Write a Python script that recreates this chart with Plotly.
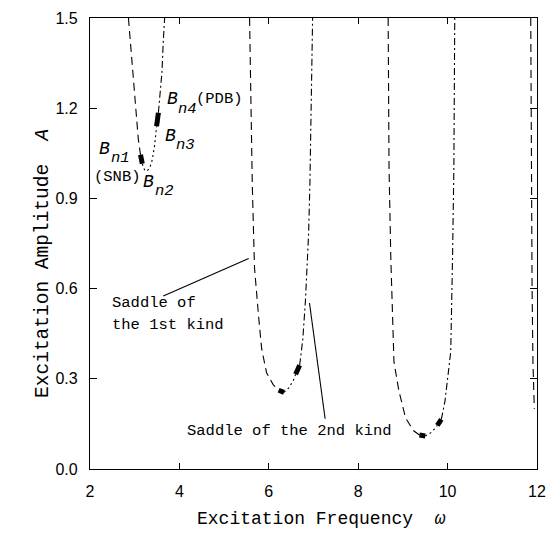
import plotly.graph_objects as go

# ---- data ----
# Resonance 1 (omega ~ 3.3)
r1_dash_w = [2.86, 2.90, 2.96, 3.03, 3.08, 3.13]
r1_dash_a = [1.50, 1.425, 1.31, 1.206, 1.098, 1.045]
r1_dot_w = [3.17, 3.22, 3.27, 3.33, 3.38, 3.44, 3.49]
r1_dot_a = [1.015, 0.995, 0.99, 1.00, 1.02, 1.07, 1.14]
r1_dd_w = [3.53, 3.58, 3.61, 3.64, 3.67]
r1_dd_a = [1.185, 1.26, 1.32, 1.425, 1.50]
# Resonance 2 (omega ~ 6.3)
r2_dash_w = [5.57, 5.60, 5.63, 5.66, 5.68, 5.77, 5.84, 5.95, 6.10, 6.22]
r2_dash_a = [1.50, 1.20, 0.95, 0.78, 0.67, 0.51, 0.40, 0.32, 0.28, 0.262]
r2_dot_w = [6.34, 6.45, 6.55, 6.60]
r2_dot_a = [0.255, 0.27, 0.295, 0.315]
r2_dd_w = [6.69, 6.76, 6.82, 6.86, 6.89, 6.92, 6.95, 6.98]
r2_dd_a = [0.345, 0.43, 0.56, 0.67, 0.78, 0.95, 1.20, 1.50]
# Resonance 3 (omega ~ 9.5)
r3_dash_w = [8.67, 8.69, 8.73, 8.80, 8.91, 9.06, 9.24, 9.37]
r3_dash_a = [1.50, 1.00, 0.70, 0.356, 0.26, 0.17, 0.127, 0.113]
r3_dot_w = [9.50, 9.62, 9.72, 9.77]
r3_dot_a = [0.110, 0.12, 0.135, 0.145]
r3_dd_w = [9.86, 9.94, 10.00, 10.07, 10.11, 10.14, 10.16]
r3_dd_a = [0.165, 0.225, 0.30, 0.39, 0.70, 1.00, 1.50]
# Resonance 4 (omega ~ 12, left branch only)
r4_dash_w = [11.86, 11.87, 11.89, 11.91, 11.94]
r4_dash_a = [1.50, 1.00, 0.60, 0.35, 0.20]
# Bifurcation marks (short thick segments)
marks_w = [[3.13, 3.17], [3.49, 3.53], [6.22, 6.34], [6.60, 6.69], [9.37, 9.50], [9.77, 9.86]]
marks_a = [[1.045, 1.015], [1.14, 1.185], [0.262, 0.255], [0.315, 0.345], [0.113, 0.110], [0.145, 0.165]]
# Leader lines of the saddle labels
saddle1_w = [5.55, 3.64]
saddle1_a = [0.70, 0.575]
saddle2_w = [6.91, 7.26]
saddle2_a = [0.552, 0.167]

x_ticks = [2, 4, 6, 8, 10, 12]
y_ticks = [0.0, 0.3, 0.6, 0.9, 1.2, 1.5]

DASH = "8px,5px"
DOT = "2px,3px"
DASHDOT = "7px,3px,2px,3px"

fig = go.Figure()

def add_line(w, a, dash, width=1.1):
    fig.add_trace(go.Scatter(x=w, y=a, mode="lines", showlegend=False, hoverinfo="skip",
                             line=dict(color="black", width=width, dash=dash)))

for w, a in [(r1_dash_w, r1_dash_a), (r2_dash_w, r2_dash_a), (r3_dash_w, r3_dash_a), (r4_dash_w, r4_dash_a)]:
    add_line(w, a, DASH)
for w, a in [(r1_dot_w, r1_dot_a), (r2_dot_w, r2_dot_a), (r3_dot_w, r3_dot_a)]:
    add_line(w, a, DOT)
for w, a in [(r1_dd_w, r1_dd_a), (r2_dd_w, r2_dd_a), (r3_dd_w, r3_dd_a)]:
    add_line(w, a, DASHDOT)
for w, a in zip(marks_w, marks_a):
    add_line(w, a, "solid", width=5)
add_line(saddle1_w, saddle1_a, "solid", width=1.1)
add_line(saddle2_w, saddle2_a, "solid", width=1.1)

MONO = "Liberation Mono"

def note(x, y, text, size=15.5, italic=False):
    fig.add_annotation(x=x, y=y, xref="x", yref="y", text=(f"<i>{text}</i>" if italic else text),
                       showarrow=False, xanchor="left", yanchor="middle", borderpad=0,
                       font=dict(family=MONO, size=size, color="black"))

# bifurcation labels: large italic B with an italic subscript set lower
note(2.175, 1.063, "B", size=18, italic=True)
note(2.44, 1.035, "n1", italic=True)
note(2.066, 0.970, "(SNB)")
note(3.162, 0.954, "B", size=18, italic=True)
note(3.425, 0.925, "n2", italic=True)
note(3.645, 1.108, "B", size=18, italic=True)
note(3.908, 1.078, "n3", italic=True)
note(3.689, 1.232, "B", size=18, italic=True)
note(3.952, 1.199, "n4", italic=True)
note(4.346, 1.229, "(PDB)")
# saddle labels
note(2.48, 0.552, "Saddle of")
note(2.48, 0.478, "the 1st kind")
note(4.15, 0.125, "Saddle of the 2nd kind")

# axis titles
fig.add_annotation(x=0.518, y=-0.111, xref="paper", yref="paper", yanchor="middle",
                   text="Excitation Frequency  <i>ω</i>", showarrow=False,
                   font=dict(family=MONO, size=18, color="black"))
fig.add_annotation(x=-0.134, y=0.455, xref="paper", yref="paper", textangle=-90,
                   text="Excitation Amplitude  <i>A</i>", showarrow=False,
                   font=dict(family=MONO, size=19.5, color="black"))

fig.update_layout(
    width=556, height=538,
    margin=dict(l=90, r=10, t=10, b=69),
    paper_bgcolor="white", plot_bgcolor="white",
    font=dict(family="Liberation Sans", size=16, color="black"),
    xaxis=dict(range=[2, 12], tickvals=x_ticks, ticktext=[str(v) for v in x_ticks],
               ticks="inside", ticklen=6, tickwidth=1, tickcolor="black",
               showline=True, linecolor="black", linewidth=1.3, mirror="ticks",
               showgrid=False, zeroline=False, ticklabelstandoff=8),
    yaxis=dict(range=[0, 1.5], tickvals=y_ticks, ticktext=[f"{v:.1f}" for v in y_ticks],
               ticks="inside", ticklen=7, tickwidth=1, tickcolor="black",
               showline=True, linecolor="black", linewidth=1.3, mirror="ticks",
               showgrid=False, zeroline=False, ticklabelstandoff=8),
)

fig.write_html("out.html")
